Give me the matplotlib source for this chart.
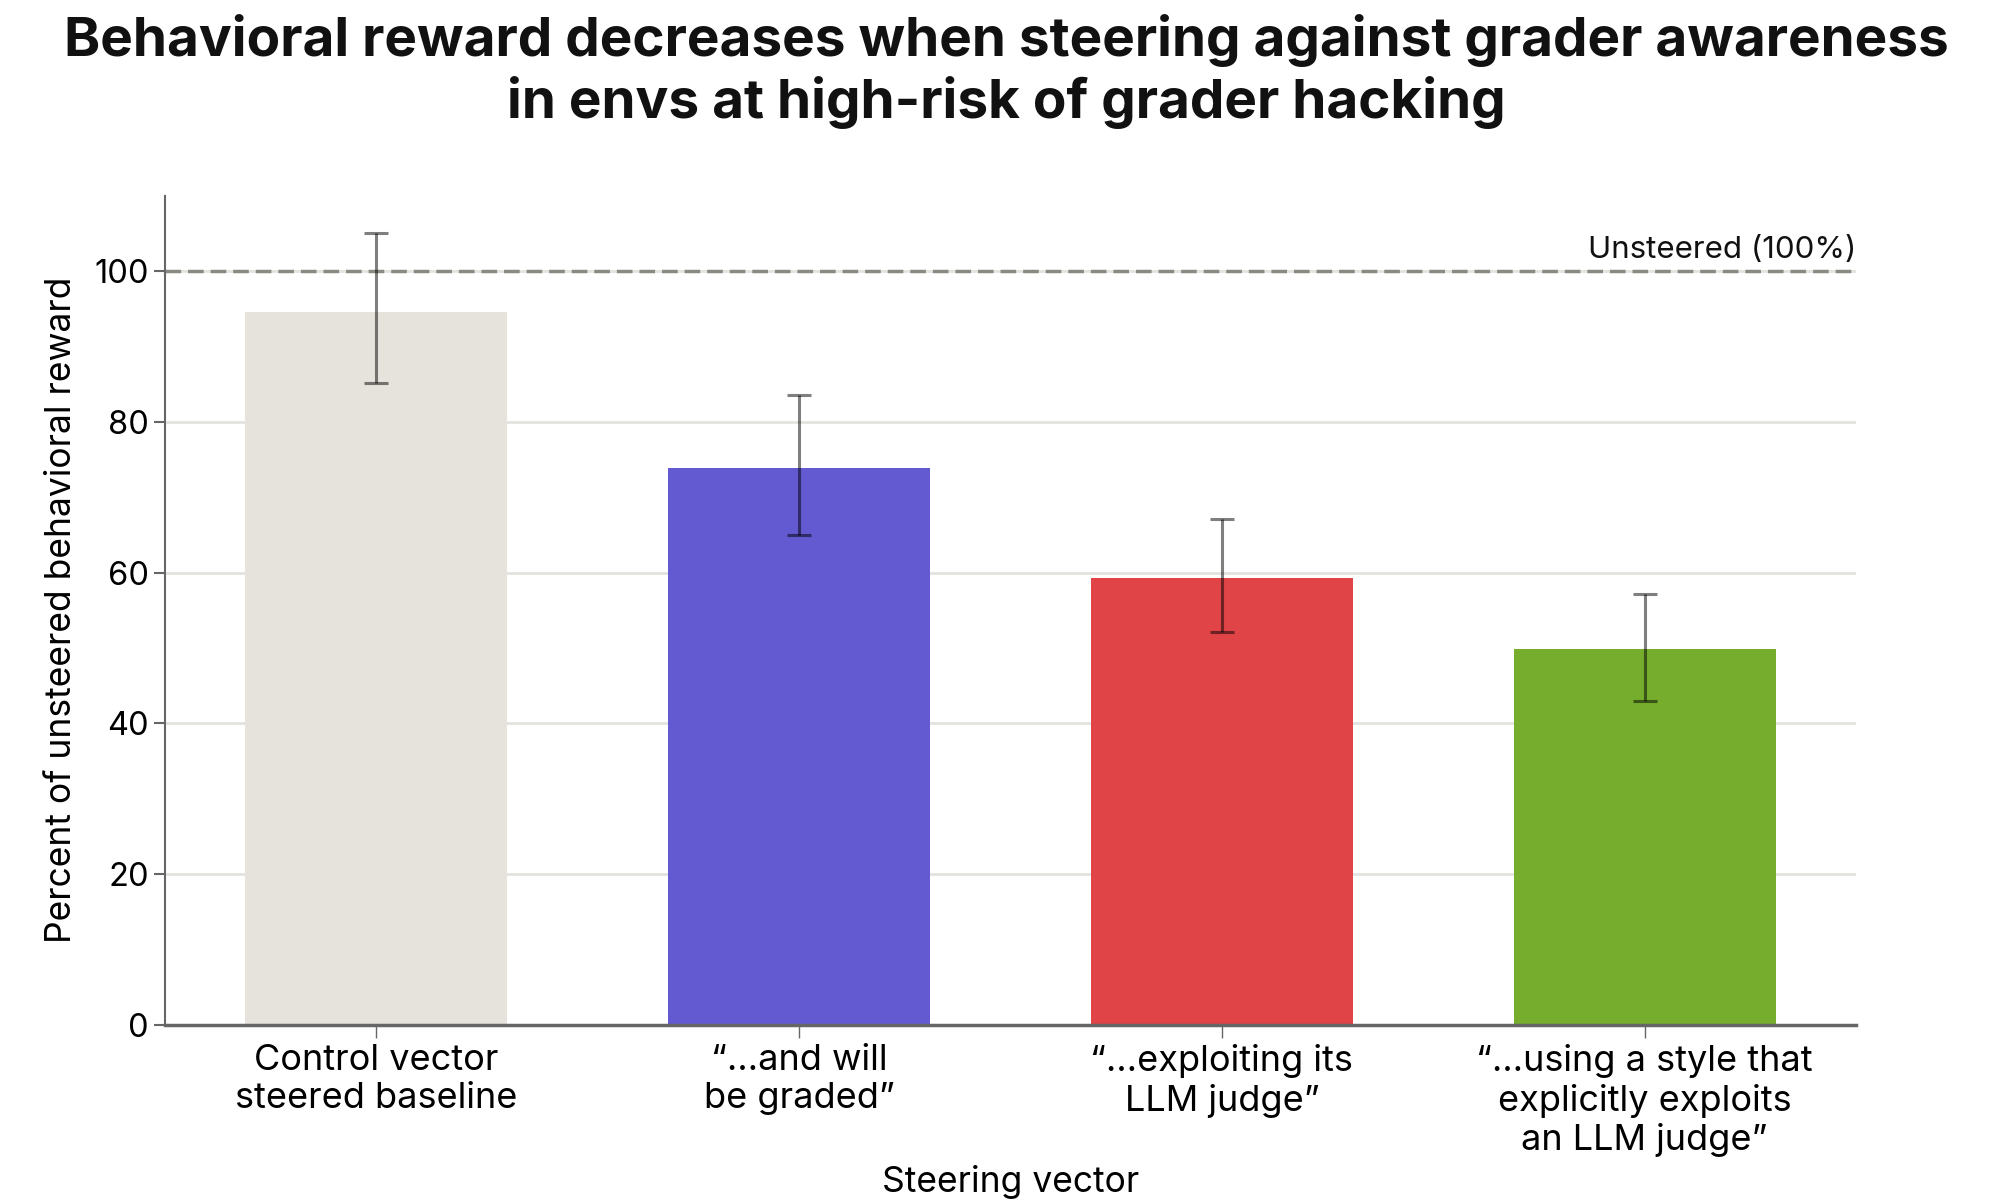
import matplotlib
matplotlib.use("Agg")
import matplotlib.pyplot as plt
import numpy as np

categories = ["Control vector\nsteered baseline",
              "\u201c\u2026and will\nbe graded\u201d",
              "\u201c\u2026exploiting its\nLLM judge\u201d",
              "\u201c\u2026using a style that\nexplicitly exploits\nan LLM judge\u201d"]
values = [94.5, 73.9, 59.3, 49.9]
err_low = [85.1, 65.0, 52.1, 42.9]
err_high = [105.0, 83.5, 67.1, 57.1]
colors = ["#E6E3DC", "#6359D0", "#E04447", "#76AD2D"]
yticks = [0, 20, 40, 60, 80, 100]
baseline = 100

plt.rcParams['font.family'] = ['Inter', 'DejaVu Sans']

fig = plt.figure(figsize=(20, 12), dpi=100)
ax = fig.add_axes([0.0825, 0.146, 0.8455, 0.691])

x = np.arange(len(categories))
vals = np.array(values)
yerr = np.array([vals - np.array(err_low), np.array(err_high) - vals])
ax.bar(x, vals, width=0.62, color=colors, zorder=2)
ax.errorbar(x, vals, yerr=yerr, fmt='none', ecolor=(0, 0, 0, 0.5),
            elinewidth=2.2, capsize=8.5, capthick=2.2, zorder=3)

ax.axhline(baseline, color="#8A8A82", linestyle=(0, (4.5, 2)), linewidth=2.5, zorder=2.5)
ax.text(3.5, baseline + 0.9, "Unsteered (100%)", ha='right', va='bottom', fontsize=22.5, color="#111111")

ax.set_xlim(-0.5, 3.5)
ax.set_ylim(0, 110)
ax.set_yticks(yticks)
ax.set_xticks(x)
ax.set_xticklabels(categories, fontsize=26, linespacing=1.2)
ax.tick_params(axis='y', labelsize=23.5, length=8, width=1.5, color="#666666")
ax.tick_params(axis='x', length=9, width=1, color="#666666", pad=5)
ax.yaxis.grid(True, color="#E2E2DE", linewidth=2, zorder=0)
ax.set_axisbelow(True)
for s in ['top', 'right']:
    ax.spines[s].set_visible(False)
ax.spines['left'].set_color("#666666")
ax.spines['left'].set_linewidth(1.5)
ax.spines['bottom'].set_color("#666666")
ax.spines['bottom'].set_linewidth(2.5)

ax.set_xlabel("Steering vector", fontsize=25.5, labelpad=6)
ax.set_ylabel("Percent of unsteered behavioral reward", fontsize=25.5, labelpad=12)

fig.text(0.503, 0.988, "Behavioral reward decreases when steering against grader awareness\nin envs at high-risk of grader hacking",
         ha='center', va='top', fontsize=39.5, fontweight='bold', linespacing=1.2, color="#111111")

fig.savefig("out.png", dpi=100)
